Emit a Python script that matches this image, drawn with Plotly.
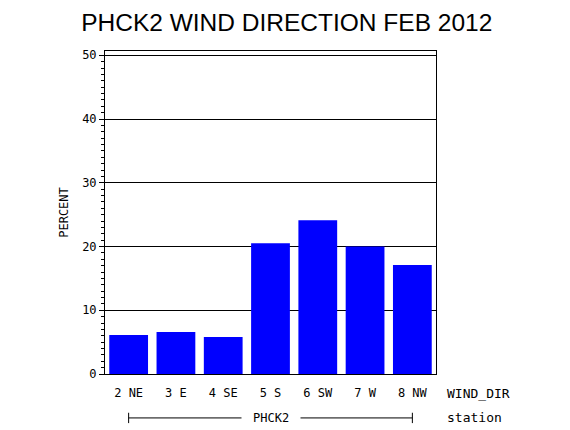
import plotly.graph_objects as go

# wind direction percentages, PHCK2, Feb 2012
wind_dir = ["2 NE", "3 E", "4 SE", "5 S", "6 SW", "7 W", "8 NW"]
percent = [6.1, 6.6, 5.8, 20.5, 24.1, 20.0, 17.1]
station = "PHCK2"
y_ticks = [0, 10, 20, 30, 40, 50]

mono = "DejaVu Sans Mono"

fig = go.Figure(go.Bar(
    x=wind_dir,
    y=percent,
    marker=dict(color="#0000ff", line=dict(width=0)),
))

# page body adds an 8px margin, so the figure is a little smaller than the window
fig.update_layout(
    width=562,
    height=422,
    margin=dict(l=97, r=134, t=43, b=56),
    paper_bgcolor="white",
    plot_bgcolor="white",
    bargap=0.18,
    showlegend=False,
    title=dict(
        text="PHCK2 WIND DIRECTION FEB 2012",
        font=dict(family="Liberation Sans", size=24.5, color="black"),
        x=0.496, xanchor="center",
        y=0.967, yanchor="middle",
    ),
    font=dict(family=mono, size=12, color="black"),
)

fig.update_xaxes(
    showline=True, linecolor="black", linewidth=1, mirror=True,
    ticks="", showgrid=False,
    tickfont=dict(family=mono, size=12),
    ticklabelstandoff=8,
)

fig.update_yaxes(
    range=[0, 50.67],
    tickvals=y_ticks,
    showline=True, linecolor="black", linewidth=1, mirror=True,
    ticks="outside", ticklen=5, tickcolor="black",
    minor=dict(dtick=1, ticks="outside", ticklen=3, tickcolor="black", showgrid=False),
    showgrid=True, gridcolor="black", gridwidth=1,
    zeroline=False,
    tickfont=dict(family=mono, size=12),
    title=dict(text="PERCENT", font=dict(family=mono, size=12), standoff=10),
)

# group axis for the station, spanning first to last category
line_y = -0.136
fig.add_shape(type="line", xref="x", yref="paper",
              x0=0, x1=len(wind_dir) - 1, y0=line_y, y1=line_y,
              line=dict(color="black", width=1))
for xc in [0, len(wind_dir) - 1]:
    fig.add_shape(type="line", xref="x", yref="paper",
                  x0=xc, x1=xc, y0=line_y + 0.016, y1=line_y - 0.016,
                  line=dict(color="black", width=1))

fig.add_annotation(text=station, xref="paper", yref="paper",
                   x=0.503, y=line_y, xanchor="center", yanchor="middle",
                   showarrow=False, bgcolor="white", borderpad=11,
                   font=dict(family=mono, size=12))

fig.add_annotation(text="WIND_DIR", xref="paper", yref="paper",
                   x=1.027, y=-0.059, xanchor="left", yanchor="middle",
                   showarrow=False, font=dict(family=mono, size=13))
fig.add_annotation(text="station", xref="paper", yref="paper",
                   x=1.027, y=line_y, xanchor="left", yanchor="middle",
                   showarrow=False, font=dict(family=mono, size=13))

fig.write_html("out.html")
